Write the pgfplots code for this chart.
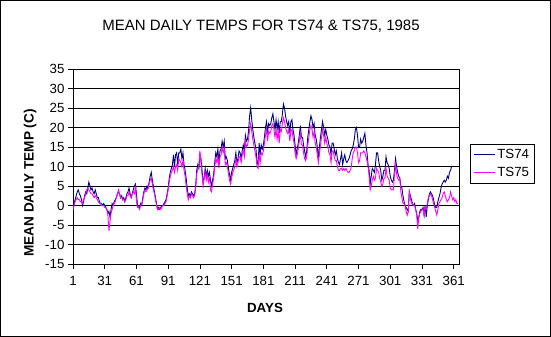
\documentclass[border=0pt]{standalone}
\usepackage{pgfplots}
\usepackage{pgfplotstable}
\pgfplotsset{compat=1.18}
\usepackage{fontspec}
\setmainfont{Liberation Sans}
\definecolor{tsnavy}{RGB}{0,0,128}
\definecolor{tspink}{RGB}{255,0,255}
\pgfplotstableread{
day ts74 ts75
1 -0.5 -1
2 0.5 0
3 1.5 1
4 2.5 1.5
5 3.5 2
6 4 1.5
7 3 1.5
8 2.5 1
9 1.5 1
10 0 0.5
11 1 1.5
12 2.5 2
13 3.5 3
14 3 4
15 4.5 4.5
16 6 4
17 5 3.5
18 4 3
19 4.5 3
20 3.5 2.5
21 3 2
22 4 2.5
23 3 2
24 2 1.5
25 2 1
26 1 0.5
27 0.5 0.5
28 0.5 0
29 0 0
30 0.5 0
31 0 -0.5
32 -0.5 -0.5
33 -1 -1
34 -2 -2.5
35 -1.5 -6.5
36 -3 -4
37 -1 -2
38 0.5 -1
39 0 0
40 1 0.5
41 1.5 1
42 2 2
43 3 3
44 3.5 4
45 3 3
46 2 2
47 2.5 2
48 1.5 1.5
49 2 1.5
50 1 1
51 2 1.5
52 3 2.5
53 3.5 2.5
54 4.5 3.5
55 3 2.5
56 2 2
57 3 3
58 4 3.5
59 5 3
60 5.5 4.5
61 3 1
62 0 -0.5
63 -0.5 -0.5
64 -0.5 -1
65 0.5 0
66 0 0.5
67 2 1.5
68 3.5 3
69 4.5 4
70 4 3.5
71 5 4
72 4.5 4.5
73 6 5.5
74 7.5 6.5
75 8.5 7
76 6.5 5.5
77 5 4
78 3.5 3
79 2 1.5
80 0.5 0
81 -1 -1
82 -0.5 -1
83 -1 -0.5
84 -0.5 -1
85 0 -0.5
86 0 0
87 0.5 0
88 1 0.5
89 1.5 1
90 3 2.5
91 4.5 4
92 7 6
93 8.5 7.5
94 9.5 8.5
95 10.5 9
96 13 10
97 10 8.5
98 13 10
99 13.5 10.5
100 10.5 9
101 13.5 12
102 13.5 11.5
103 14.5 11
104 12 10
105 13.5 11.5
106 10.5 9
107 9 7.5
108 7 5
109 4.5 3
110 2.5 1.5
111 3 2.5
112 2.5 2
113 3.5 3
114 3 2.5
115 2.5 2
116 3 2.5
117 5 4.5
118 9 8
119 10.5 9.5
120 9.5 10
121 13 14
122 12 11
123 9 8
124 6 5
125 7 7
126 9.5 8.5
127 7.5 6.5
128 9 8
129 7.5 6
130 8.5 7
131 6.5 4
132 5 3.5
133 6.5 5.5
134 8 7
135 11 10
136 13.5 12
137 12.5 11
138 14.5 12.5
139 11 9.5
140 14 12.5
141 14.5 13
142 16.5 15
143 15 13.5
144 16.5 14.5
145 12 10.5
146 12.5 11
147 11.5 10
148 9.5 8
149 8 6.5
150 6.5 5.5
151 8.5 7
152 9.5 8.5
153 10.5 9
154 11.5 10
155 13.5 12
156 11 10
157 12 11
158 14 12.5
159 13.5 12.5
160 12 11
161 14 13
162 15.5 14
163 14 12.5
164 18 16.5
165 16.5 15
166 17 15.5
167 19 17
168 23 19.5
169 25 21
170 22 19
171 19.5 17
172 17.5 15.5
173 16 14
174 14.5 12.5
175 11 10
176 10.5 9.5
177 16 13.5
178 13 11
179 15.5 13.5
180 14.5 13
181 15.5 14
182 17.5 16
183 20 18
184 21.5 19.5
185 19 16.5
186 21 19
187 20.5 18.5
188 21 19
189 22.5 20.5
190 23.5 21
191 21.5 19.5
192 19.5 17.5
193 22 19.5
194 19.5 17
195 21.5 19
196 18.5 16
197 21.5 19.5
198 21.5 19
199 23.5 21
200 26 22.5
201 25 21.5
202 23 20
203 21.5 19
204 20.5 18.5
205 21.5 19.5
206 18.5 16.5
207 21.5 19
208 22 19.5
209 19.5 17.5
210 18 16
211 15.5 13.5
212 13 12
213 14.5 13
214 16 14.5
215 18 16.5
216 20.5 18.5
217 17.5 15.5
218 17.5 15.5
219 15.5 13.5
220 14 12
221 12.5 11.5
222 14 12.5
223 17.5 15.5
224 19.5 17.5
225 21.5 19.5
226 23 20.5
227 22 19.5
228 20 17.5
229 21 19
230 18 16
231 17 15
232 15 13
233 12.5 11
234 15 13
235 17.5 15.5
236 19.5 17.5
237 21.5 19.5
238 20 18
239 18 16
240 19.5 17.5
241 18 16
242 17 15
243 15.5 13.5
244 15 13
245 13 11
246 16 14
247 16 14
248 14.5 12.5
249 13 11.5
250 14 11.5
251 12 10
252 11 9
253 10.5 9
254 12 9.5
255 13.5 9.5
256 10.5 9
257 12 9.5
258 13 9
259 11.5 9.5
260 11 9
261 11.5 8.5
262 12 8.5
263 13 9
264 14 9.5
265 14.5 12
266 15.5 13.5
267 17 14
268 19.5 15
269 20 15
270 18 13.5
271 15 11
272 15 11.5
273 17 13.5
274 16 13.5
275 16.5 13.5
276 17.5 14
277 18.5 13.5
278 15.5 12.5
279 13.5 11.5
280 10.5 10
281 9 7.5
282 5.5 4
283 7.5 5
284 9.5 6.5
285 9 7.5
286 8.5 6.5
287 10.5 7
288 13.5 9.5
289 13.5 9
290 11.5 8.5
291 10 7
292 9 6
293 6.5 5
294 7.5 5.5
295 9 7
296 9 7
297 12.5 9.5
298 11 7.5
299 10.5 7
300 9.5 6.5
301 7.5 4.5
302 6.5 4
303 6 4
304 6.5 4
305 9 8
306 12 10.5
307 10 8
308 8.5 7
309 7.5 6.5
310 7 7
311 5 3.5
312 4.5 2
313 2.5 0.5
314 1 0.5
315 0 0
316 -0.5 -1.5
317 -1 -2.5
318 -1.5 -1.5
319 3.5 3.5
320 2.5 2
321 1.5 0.5
322 0.5 0.5
323 0 0
324 0.5 0
325 -1 -1
326 -2 -2.5
327 -4 -6
328 -3 -3
329 -1.5 -2
330 -1 -1.5
331 -1 -1
332 -0.5 -1
333 -2.5 -2.5
334 0 -0.5
335 -3 -1
336 0 0.5
337 1.5 2
338 3 2.5
339 3.5 3
340 3 2.5
341 2.5 1.5
342 1.5 0.5
343 0 -0.5
344 -0.5 -1.5
345 -0.5 -2.5
346 1 -1
347 2 0.5
348 3 1
349 4.5 1.5
350 5.5 2
351 6 3
352 6.5 3.5
353 6 2.5
354 6.5 1.5
355 7.5 1
356 7 1.5
357 8.5 2
358 9 3.5
359 10 2.5
360 nan 1.5
361 nan 2
362 nan 1
363 nan 1.5
364 nan 0.5
365 nan 0.5
}\temps
\begin{document}
\begin{tikzpicture}
\useasboundingbox (0pt,0pt) rectangle (551pt,337pt);
\fill[white] (0pt,0pt) rectangle (551pt,337pt);
\draw[line width=1pt] (0.5pt,0.5pt) rectangle (550.5pt,336.5pt);
\node[font=\fontsize{15}{18}\selectfont] at (261pt,311pt) {MEAN DAILY TEMPS FOR TS74 \& TS75, 1985};
\node[font=\bfseries\fontsize{13.3}{16}\selectfont] at (265pt,29pt) {DAYS};
\node[rotate=90,font=\bfseries\fontsize{13.6}{16}\selectfont] at (30pt,154pt) {MEAN DAILY TEMP (C)};
\begin{axis}[at={(73pt,73pt)}, anchor=south west, scale only axis,
  width=386pt, height=195pt,
  xmin=1, xmax=366, ymin=-15, ymax=35,
  xtick={1,31,...,361},
  ytick={-15,-10,...,35},
  yticklabels={-15,-10,-5,0,5,10,15,20,25,30,35},
  ymajorgrids, grid style={black, line width=0.8pt},
  axis line style={black, line width=0.8pt},
  tick align=outside, tickpos=left, major tick length=5pt,
  tick style={black, line width=0.8pt},
  ticklabel style={font=\fontsize{13.3}{16}\selectfont},
  /pgf/number format/assume math mode=true,
  xticklabel style={yshift=-4pt},
  legend style={at={(1.0285,0.615)}, anchor=north west, draw=black,
    line width=0.8pt, font=\fontsize{13.3}{16}\selectfont,
    inner xsep=3pt, inner ysep=3pt, row sep=3pt, cells={anchor=west}},
  legend image code/.code={\draw[#1] (0pt,0pt) -- (21pt,0pt);},
]
\addplot[tsnavy, line width=0.9pt] table[x=day,y=ts74] {\temps};
\addplot[tspink, line width=0.9pt] table[x=day,y=ts75] {\temps};
\legend{TS74,TS75}
\end{axis}
\end{tikzpicture}
\end{document}
